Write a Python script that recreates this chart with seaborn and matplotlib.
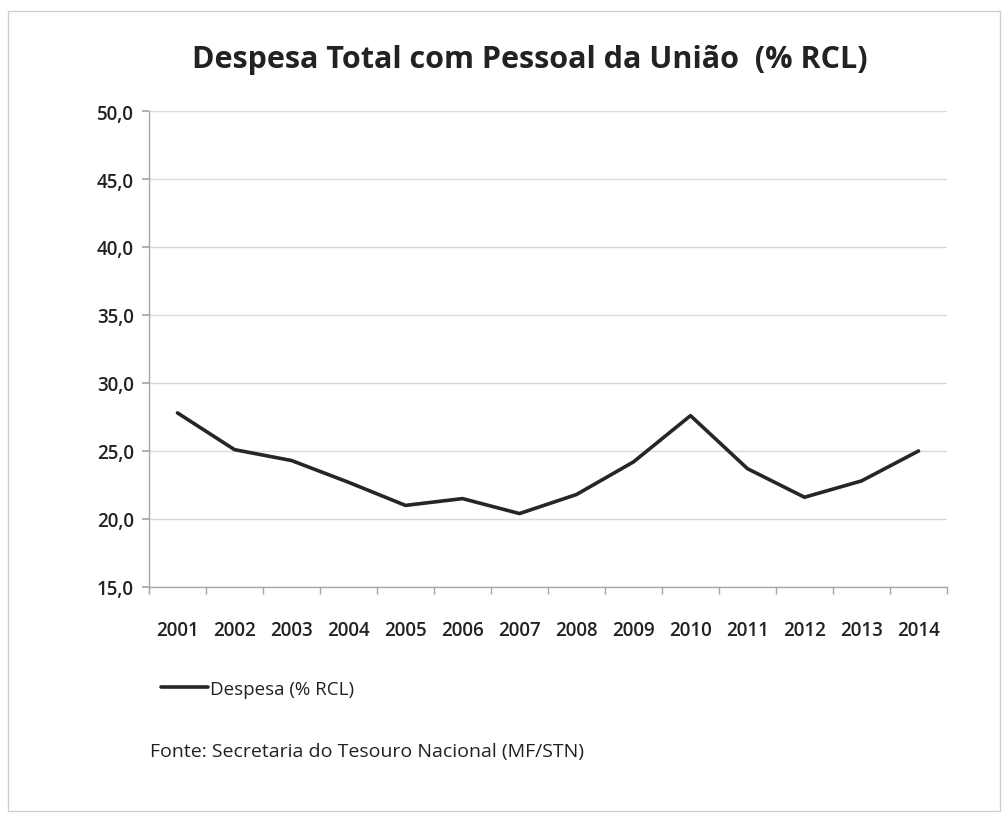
import numpy as np
import pandas as pd
import matplotlib
matplotlib.use("Agg")
import matplotlib.pyplot as plt
from matplotlib.patches import Rectangle
from matplotlib.lines import Line2D
import seaborn as sns

# Data
anos = [2001, 2002, 2003, 2004, 2005, 2006, 2007,
        2008, 2009, 2010, 2011, 2012, 2013, 2014]
despesa = [27.8, 25.1, 24.3, 22.7, 21.0, 21.5, 20.4,
           21.8, 24.2, 27.6, 23.7, 21.6, 22.8, 25.0]
y_ticks = [15, 20, 25, 30, 35, 40, 45, 50]

titulo = "Despesa Total com Pessoal da União  (% RCL)"
serie_nome = "Despesa (% RCL)"
fonte = "Fonte: Secretaria do Tesouro Nacional (MF/STN)"

df = pd.DataFrame({"ano": anos, "despesa": despesa})

sns.set_theme(style="white")
plt.rcParams["font.family"] = ["Open Sans", "DejaVu Sans"]

fig = plt.figure(figsize=(10.07, 8.2), dpi=100)
W, H = 1007, 820
ax = fig.add_axes([149 / W, 1 - 588 / H, (947 - 149) / W, (588 - 112) / H])

sns.lineplot(data=df, x="ano", y="despesa", ax=ax, color="#262626",
             linewidth=2.6, legend=False)

ax.set_xlim(anos[0] - 0.5, anos[-1] + 0.5)
ax.set_ylim(15, 50)
ax.set_yticks(y_ticks)
ax.set_yticklabels([f"{v:.1f}".replace(".", ",") for v in y_ticks],
                   fontweight="semibold")
ax.set_xticks(anos)
ax.set_xticklabels([str(a) for a in anos], fontweight="semibold")
ax.set_xticks(np.arange(anos[0] - 0.5, anos[-1] + 1, 1), minor=True)
ax.set_xlabel("")
ax.set_ylabel("")

ax.grid(axis="y", color="#d9d9d9", linewidth=1)
ax.set_axisbelow(True)
for s in ["top", "right"]:
    ax.spines[s].set_visible(False)
for s in ["left", "bottom"]:
    ax.spines[s].set_color("#a6a6a6")
    ax.spines[s].set_linewidth(1)

ax.tick_params(axis="y", which="major", length=5, color="#a6a6a6",
               direction="out", left=True, labelsize=13.5, labelcolor="#222222",
               pad=6)
ax.tick_params(axis="x", which="major", length=0, labelsize=13.5,
               labelcolor="#222222", pad=24)
ax.tick_params(axis="x", which="minor", length=5, color="#a6a6a6",
               direction="out", bottom=True)

fig.text(530 / W, 1 - 60 / H, titulo, ha="center", va="center",
         fontsize=22, fontweight="bold", color="#222222")

# legend
handle = Line2D([], [], color="#262626", linewidth=2.6)
fig.legend([handle], [serie_nome], loc="center left",
           bbox_to_anchor=(144 / W, 1 - 690 / H), frameon=False,
           fontsize=13.5, handlelength=2.5, handletextpad=0.1,
           labelcolor="#222222")

fig.text(150 / W, 1 - 752 / H, fonte, ha="left", va="center",
         fontsize=14, color="#222222")

# outer chart frame
fig.patches.append(Rectangle((8 / W, 8 / H), (1000 - 8) / W, (808 - 8) / H,
                             transform=fig.transFigure, fill=False,
                             edgecolor="#cfcfcf", linewidth=1))

fig.savefig("out.png", dpi=100)
